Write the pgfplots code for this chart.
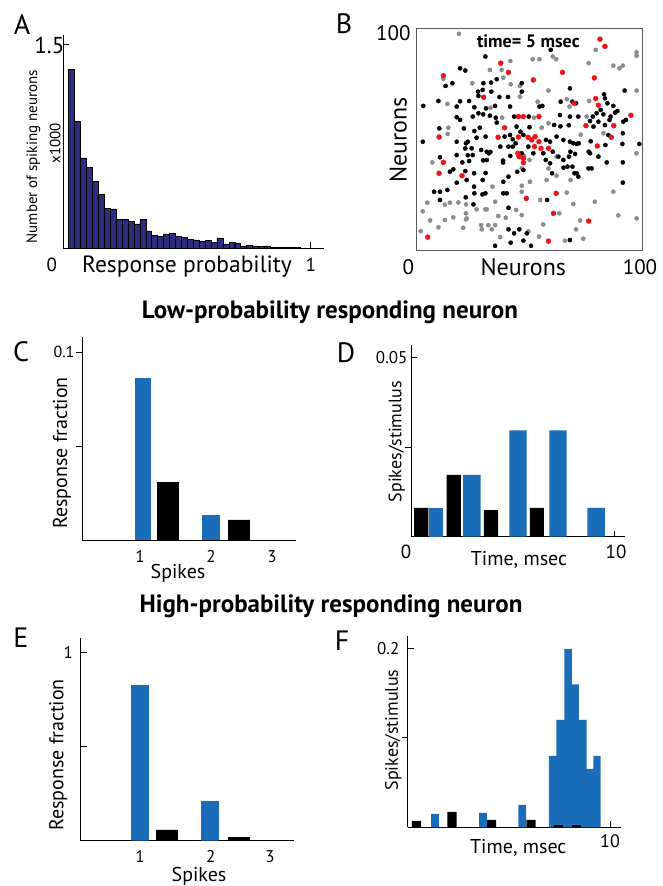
\documentclass[border=0pt]{standalone}
\usepackage{pgfplots}
\pgfplotsset{compat=1.18}
\usepackage{fontspec}
\setmainfont{PT Sans}
\definecolor{navy}{HTML}{2E2C7E}
\definecolor{mblue}{HTML}{1B6DBA}
\definecolor{dgray}{HTML}{8C8C8C}
\definecolor{mred}{HTML}{E8161B}
\newcommand\fs[1]{\fontsize{#1}{#1}\selectfont}
\pgfplotsset{
  base/.style={scale only axis, anchor=south west, axis lines=left,
    axis line style={-, line width=0.8pt, black},
    every tick/.style={line width=0.8pt, black}, major tick length=6pt,
    xticklabels={}, yticklabels={}, scaled ticks=false, clip=false},
  bbar/.style={ybar, bar shift=0pt, fill=mblue, draw=none},
  kbar/.style={ybar, bar shift=0pt, fill=black, draw=none},
}
\begin{document}
\begin{tikzpicture}
\path[use as bounding box] (0,0) rectangle (663pt,886pt);
% ---------------- A
\begin{axis}[base, at={(63.3pt,637.7pt)}, width=260.7pt, height=213.3pt,
  xmin=0.0438, xmax=1.054, ymin=0, ymax=1.568,
  xtick={1}, ytick={1.5}, tick align=inside]
\addplot[ybar, bar shift=0pt, bar width=0.02298, fill=navy, draw=black, line width=0.5pt] coordinates {
(0.0762,1.315) (0.0992,0.932) (0.1222,0.664) (0.1451,0.593) (0.1681,0.494)
(0.1911,0.398) (0.2141,0.295) (0.2371,0.290) (0.2600,0.214) (0.2830,0.214)
(0.3060,0.199) (0.3290,0.180) (0.3520,0.214) (0.3749,0.128) (0.3979,0.096)
(0.4209,0.086) (0.4439,0.106) (0.4669,0.111) (0.4898,0.089) (0.5128,0.079)
(0.5358,0.066) (0.5588,0.061) (0.5818,0.049) (0.6047,0.059) (0.6277,0.044)
(0.6507,0.076) (0.6737,0.030) (0.6967,0.042) (0.7196,0.037) (0.7426,0.012)
(0.7656,0.022) (0.7886,0.017) (0.8116,0.012) (0.8345,0.017) (0.8575,0.007)
(0.8805,0.007) (0.9035,0.007) (0.9265,0.007) (0.9494,0.005)};
\end{axis}
% ---------------- B
\begin{axis}[scale only axis, anchor=south west, at={(416.7pt,635.3pt)}, width=226pt, height=222.4pt,
  xmin=0, xmax=100, ymin=0, ymax=100, xtick=\empty, ytick=\empty,
  axis line style={line width=0.8pt, black!65}, clip=false]
\addplot[only marks, mark=*, mark size=2.1pt, color=dgray] coordinates {
(18.7,97.5) (79.2,90.3) (97.3,89.2) (97.3,87.6) (51.3,86.1) (54.3,86.1) (60.2,87.3) (61.7,86.1)
(41.4,85.3) (76.1,84.3) (87.0,83.2) (91.2,83.2) (89.7,82.0) (32.4,81.3) (37.6,81.3) (11.8,77.2)
(38.3,77.8) (24.6,75.3) (41.6,74.8) (45.7,74.1) (58.3,72.0) (97.3,72.0) (45.7,69.3) (66.4,68.1)
(13.6,66.0) (32.7,64.3) (53.5,67.0) (76.3,67.3) (67.6,64.8) (37.8,59.8) (51.9,59.8) (75.2,60.3)
(14.0,55.3) (55.3,55.3) (58.3,57.3) (82.6,52.8) (13.7,52.5) (72.6,52.2) (61.9,42.3) (97.2,43.8)
(6.9,39.7) (47.6,42.6) (49.9,40.8) (33.5,28.8) (46.5,37.0) (58.3,37.0) (61.9,33.7) (57.5,31.8)
(68.1,31.8) (46.5,29.2) (46.5,26.5) (50.1,31.0) (54.6,22.8) (66.4,26.1) (78.8,22.0) (87.0,26.5)
(4.7,21.6) (12.5,20.7) (14.7,21.6) (18.4,21.7) (21.8,20.8) (31.0,18.6) (34.7,22.0) (44.0,18.3)
(69.3,21.0) (2.7,17.7) (21.8,16.8) (22.1,14.5) (26.5,18.6) (30.4,18.6) (46.5,16.0) (63.1,16.8)
(5.9,13.6) (12.5,13.8) (16.2,15.0) (21.8,14.1) (28.5,11.5) (31.7,11.5) (34.7,11.5) (36.1,15.6)
(39.4,14.8) (56.0,11.8) (72.3,13.6) (89.2,15.9) (97.3,14.5) (1.8,8.8) (9.6,10.5) (20.6,10.3)
(28.8,9.6) (33.2,9.6) (36.9,6.1) (49.4,8.7) (54.1,6.3) (70.5,9.6) (73.7,5.4) (65.6,4.5)};
\addplot[only marks, mark=*, mark size=2.1pt, color=black] coordinates {
(59.3,90.3) (30.4,87.3) (19.2,82.0) (21.5,81.0) (15.8,75.3) (12.8,74.1) (29.5,75.3) (32.9,75.6)
(35.4,77.1) (46.5,75.3) (29.2,72.3) (33.0,71.5) (27.1,71.5) (67.8,73.0) (92.0,72.0) (27.3,69.6)
(36.6,69.1) (40.4,69.1) (46.5,71.5) (82.9,70.3) (83.3,68.5) (9.6,67.3) (19.2,67.2) (23.2,67.3)
(25.5,64.5) (27.3,61.8) (2.9,65.1) (17.7,64.8) (30.7,64.0) (34.7,65.1) (41.3,64.8) (54.3,64.8)
(55.6,65.1) (63.7,67.0) (68.9,67.0) (70.5,66.3) (81.4,63.3) (84.4,66.3) (87.0,65.1) (88.8,62.8)
(91.4,58.0) (92.6,58.8) (17.7,60.0) (19.2,58.8) (24.8,60.3) (29.4,61.3) (32.4,60.7) (35.0,59.8)
(35.4,57.6) (43.1,60.3) (49.6,60.3) (63.4,61.0) (67.8,60.3) (79.6,61.8) (82.6,61.3) (85.8,60.3)
(87.8,62.1) (71.5,60.3) (77.9,60.3) (78.2,55.8) (10.0,55.0) (20.9,55.0) (25.5,53.8) (27.9,55.3)
(44.2,55.8) (45.9,53.5) (49.9,55.5) (60.8,56.5) (63.6,55.9) (67.3,56.4) (76.7,58.3) (80.4,58.0)
(83.3,56.5) (85.3,58.8) (84.8,52.0) (91.2,52.8) (2.7,49.0) (17.7,49.0) (21.8,48.3) (22.6,49.0)
(26.5,50.8) (30.5,51.3) (38.9,51.3) (41.3,52.0) (47.2,52.0) (42.5,50.1) (43.8,48.3) (57.2,49.8)
(59.0,49.0) (61.9,51.3) (64.9,49.8) (67.8,49.0) (69.3,48.3) (70.8,48.0) (71.7,48.3) (77.0,49.2)
(83.5,47.5) (91.0,48.0) (98.5,48.0) (21.5,46.0) (24.3,46.0) (28.5,45.3) (31.0,44.5) (31.9,43.8)
(32.6,44.4) (37.0,46.8) (40.6,46.8) (42.5,46.8) (46.5,43.8) (49.4,46.8) (51.6,43.8) (56.0,43.8)
(60.2,44.5) (62.7,42.3) (68.0,44.5) (70.1,43.5) (76.1,44.5) (76.7,43.8) (10.3,42.0) (17.7,43.0)
(20.2,39.7) (23.2,40.3) (22.6,42.9) (24.8,43.0) (29.4,40.6) (31.0,40.8) (38.2,40.5) (38.2,39.6)
(41.4,42.6) (57.1,40.8) (59.0,39.3) (64.9,40.8) (67.4,42.3) (80.4,42.3) (84.1,39.7) (91.2,39.7)
(14.7,35.5) (16.2,36.6) (21.5,35.8) (25.4,34.8) (17.7,30.6) (22.1,31.8) (25.4,28.8) (29.2,31.8)
(30.5,34.9) (38.3,31.0) (40.6,33.3) (44.5,35.5) (47.2,36.3) (59.9,34.8) (64.9,37.3) (66.7,37.8)
(68.9,37.8) (69.8,34.8) (70.8,34.8) (71.5,33.3) (76.0,37.0) (77.4,37.0) (91.2,30.6) (7.7,26.5)
(10.3,26.5) (13.6,27.3) (21.7,24.0) (25.5,25.8) (29.1,25.3) (30.4,25.8) (38.3,25.8) (39.8,25.8)
(57.7,22.8) (10.3,22.8) (25.1,20.8) (40.6,19.3) (40.6,9.6) (43.1,7.8) (45.4,9.6) (48.7,7.8)
(34.7,2.2) (41.6,3.6) (47.2,4.5) (50.6,2.2) (67.8,4.8)};
\addplot[only marks, mark=*, mark size=2.5pt, color=mred] coordinates {
(81.1,95.1) (83.3,91.9) (37.2,84.3) (40.6,80.2) (64.5,80.2) (11.8,78.7) (51.6,76.8) (78.6,77.7)
(29.6,69.0) (79.2,68.4) (69.6,66.3) (80.4,65.4) (94.8,60.9) (45.0,60.3) (47.2,60.3) (54.1,60.3)
(38.9,55.3) (74.9,56.2) (87.2,56.2) (86.1,51.0) (9.9,51.1) (36.0,51.0) (45.0,51.1) (49.3,51.0)
(50.9,49.8) (52.4,51.3) (52.1,46.8) (54.1,49.0) (55.0,46.0) (58.3,46.0) (79.9,47.1) (44.8,43.8)
(45.3,42.3) (47.2,41.5) (47.2,39.6) (11.8,39.7) (9.9,34.8) (20.1,33.7) (48.5,23.5) (61.7,25.8)
(60.5,16.8) (76.1,13.3) (4.9,6.1) (58.3,4.3)};
\end{axis}
% ---------------- C
\begin{axis}[base, at={(82.3pt,346pt)}, width=213.4pt, height=203pt,
  xmin=0.107, xmax=3.246, ymin=0, ymax=0.1082,
  xtick=\empty, ytick={0.05,0.1}, tick align=outside]
\addplot[bbar, bar width=0.245] coordinates {(1,0.0861)};
\addplot[bbar, bar width=0.265] coordinates {(2,0.0133)};
\addplot[kbar, bar width=0.32] coordinates {(1.368,0.0309) (2.412,0.0107)};
\end{axis}
% ---------------- D
\begin{axis}[base, at={(411pt,349.3pt)}, width=214pt, height=191.7pt,
  xmin=0, xmax=10.54, ymin=0, ymax=0.0534,
  xtick={10}, ytick={0.05}, tick align=inside,
  extra y ticks={0.025}, extra y tick labels={}, extra y tick style={tick align=outside}]
\addplot[kbar, bar width=0.70] coordinates {(0.5,0.0080) (2.1,0.0172) (3.94,0.0074) (6.2,0.0080)};
\addplot[bbar, bar width=0.67] coordinates {(1.22,0.0080)};
\addplot[bbar, bar width=0.86] coordinates {(3.0,0.0172) (5.27,0.0296) (7.24,0.0296) (9.12,0.0080)};
\end{axis}
% ---------------- E
\begin{axis}[base, at={(80.7pt,45.3pt)}, width=213.3pt, height=202.4pt,
  xmin=0.153, xmax=3.2, ymin=0, ymax=1.0766,
  xtick=\empty, ytick={0.5,1}, tick align=inside]
\addplot[bbar, bar width=0.253] coordinates {(1,0.828) (2,0.211)};
\addplot[kbar, bar width=0.31] coordinates {(1.386,0.057) (2.414,0.0195)};
\end{axis}
% ---------------- F
\begin{axis}[base, at={(407.7pt,58.7pt)}, width=213pt, height=191.3pt,
  xmin=0, xmax=10.53, ymin=0, ymax=0.2134,
  xtick={10}, ytick={0.2}, tick align=inside,
  extra y ticks={0.1}, extra y tick labels={}, extra y tick style={tick align=outside}]
\addplot[kbar, bar width=0.46] coordinates {(0.435,0.0071) (2.19,0.0171) (4.145,0.0082) (6.095,0.0082)};
\addplot[bbar, bar width=0.39] coordinates {(1.35,0.0149) (3.725,0.0160) (5.66,0.0249)};
\addplot[ybar interval, fill=mblue, draw=none] coordinates {(6.985,0.0796) (7.348,0.1197) (7.743,0.1989) (8.122,0.1595) (8.468,0.1197) (8.847,0.0651) (9.176,0.0796) (9.539,0.0796)};
\addplot[kbar, bar width=0.45] coordinates {(7.45,0.0025) (8.35,0.0025)};
\end{axis}
% ---------------- text
\node[font=\fs{28}] at (22pt,861pt) {A};
\node[font=\fs{28}] at (344pt,862pt) {B};
\node[font=\fs{28}] at (21pt,534pt) {C};
\node[font=\fs{28}] at (346pt,533pt) {D};
\node[font=\fs{28}] at (21pt,248pt) {E};
\node[font=\fs{28}] at (342pt,245pt) {F};
% A
\node[font=\fs{23}] at (49.3pt,841pt) {1.5};
\node[font=\fs{19}] at (51.7pt,621pt) {0};
\node[font=\fs{19}] at (310.7pt,621pt) {1};
\node[font=\fs{23.5}] at (187pt,619.3pt) {Response probability};
\node[font=\fs{15}, rotate=90] at (33.3pt,729.3pt) {Number of spiking neurons};
\node[font=\fs{15}, rotate=90] at (55pt,742.7pt) {x1000};
% B
\node[font=\fs{21}] at (393.3pt,852.7pt) {100};
\node[font=\fs{21}] at (408.3pt,619.3pt) {0};
\node[font=\fs{21}] at (640pt,619.3pt) {100};
\node[font=\fs{24}] at (523.3pt,619.3pt) {Neurons};
\node[font=\fs{24}, rotate=90] at (398.3pt,746pt) {Neurons};
\node[font=\bfseries\fs{18}] at (528.3pt,844.3pt) {time= 5 msec};
% titles
\node[font=\bfseries\fs{25}] at (330pt,574pt) {Low-probability responding neuron};
\node[font=\bfseries\fs{25}] at (331pt,280pt) {High-probability responding neuron};
% C
\node[font=\fs{16}] at (64pt,533.7pt) {0.1};
\node[font=\fs{17}] at (140pt,329.3pt) {1};
\node[font=\fs{17}] at (211pt,329.3pt) {2};
\node[font=\fs{17}] at (272pt,329.3pt) {3};
\node[font=\fs{20}] at (178pt,313pt) {Spikes};
\node[font=\fs{20}, rotate=90] at (62pt,433pt) {Response fraction};
% D
\node[font=\fs{17}] at (391.7pt,528.7pt) {0.05};
\node[font=\fs{19}] at (406pt,334.3pt) {0};
\node[font=\fs{19}] at (616pt,334.3pt) {10};
\node[font=\fs{20}] at (519pt,326pt) {Time, msec};
\node[font=\fs{18}, rotate=90] at (396.7pt,444.3pt) {Spikes/stimulus};
% E
\node[font=\fs{17}] at (68.3pt,233.3pt) {1};
\node[font=\fs{17}] at (140pt,29.3pt) {1};
\node[font=\fs{17}] at (210.7pt,29.3pt) {2};
\node[font=\fs{17}] at (270pt,29.3pt) {3};
\node[font=\fs{20}] at (199pt,10pt) {Spikes};
\node[font=\fs{20}, rotate=90] at (58.3pt,131pt) {Response fraction};
% F
\node[font=\fs{17}] at (388.3pt,237.7pt) {0.2};
\node[font=\fs{18}] at (610pt,44.3pt) {10};
\node[font=\fs{20}] at (518.3pt,38.3pt) {Time, msec};
\node[font=\fs{18}, rotate=90] at (393.3pt,156pt) {Spikes/stimulus};
\end{tikzpicture}
\end{document}
